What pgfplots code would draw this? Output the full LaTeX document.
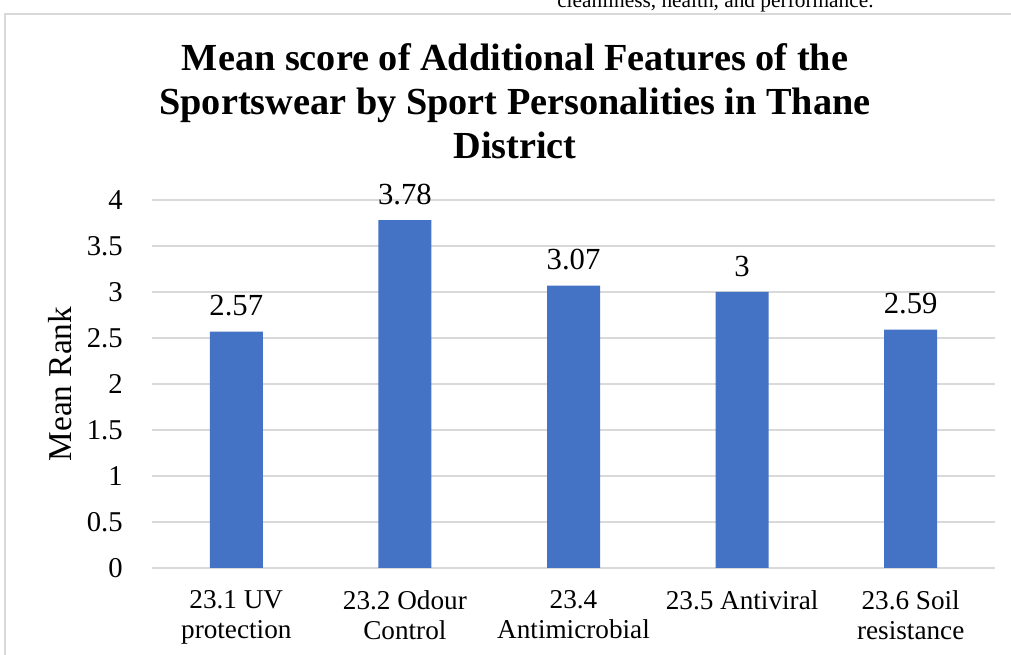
\documentclass[border=0pt]{standalone}
\usepackage{pgfplots}
\pgfplotsset{compat=1.18}
\usepackage{fontspec}
\setmainfont{Liberation Serif}
\definecolor{barblue}{HTML}{4472C4}
\definecolor{gridgray}{HTML}{D9D9D9}
\begin{document}
\begin{tikzpicture}[x=0.75pt,y=0.75pt]
\path[use as bounding box] (0,0) rectangle (1011,655);
% frame
\draw[gridgray,line width=1.5pt] (5,-10) -- (5,641) -- (1030,641);
% cut-off text at top
\node[anchor=base west,inner sep=0pt,font=\fontsize{16}{18}\selectfont] at (557,647) {cleanliness, health, and performance.};
% title
\node[align=center,font=\fontsize{28.7}{33}\selectfont\bfseries,inner sep=0pt] at (515,554)
  {Mean score of Additional Features of the\\Sportswear by Sport Personalities in Thane\\District};
\begin{axis}[
  at={(114pt,65.25pt)}, anchor=south west,
  scale only axis,
  width=632.25pt, height=276pt,
  xmin=-0.5, xmax=4.5, ymin=0, ymax=4,
  ytick={0,0.5,...,4},
  xtick=data,
  xticklabels={{23.1 UV\\protection},{23.2 Odour\\Control},{23.4\\Antimicrobial},{23.5 Antiviral},{23.6 Soil\\resistance}},
  xticklabel style={align=center,font=\fontsize{20.4}{22}\selectfont,anchor=north,inner sep=0pt,yshift=-17pt},
  yticklabel style={font=\fontsize{21.5}{24}\selectfont,anchor=east,inner sep=0pt,xshift=-21.75pt},
  /pgf/number format/assume math mode=true,
  ymajorgrids, grid style={gridgray,line width=1.1pt},
  axis x line*=bottom, axis y line*=left,
  x axis line style={gridgray,line width=1.1pt,-},
  y axis line style={draw=none},
  major tick length=0pt,
  ylabel={Mean Rank},
  every axis y label/.style={at={(rel axis cs:-0.1091,0.5)},rotate=90,anchor=center,font=\fontsize{25}{28}\selectfont},
  ybar, bar width=39.75pt,
  nodes near coords,
  nodes near coords style={font=\fontsize{23}{26}\selectfont,text=black,anchor=south,inner sep=0pt,yshift=11.5pt},
  /pgf/number format/fixed,
]
\addplot[fill=barblue,draw=none] coordinates {(0,2.57) (1,3.78) (2,3.07) (3,3) (4,2.59)};
\end{axis}
\end{tikzpicture}
\end{document}
